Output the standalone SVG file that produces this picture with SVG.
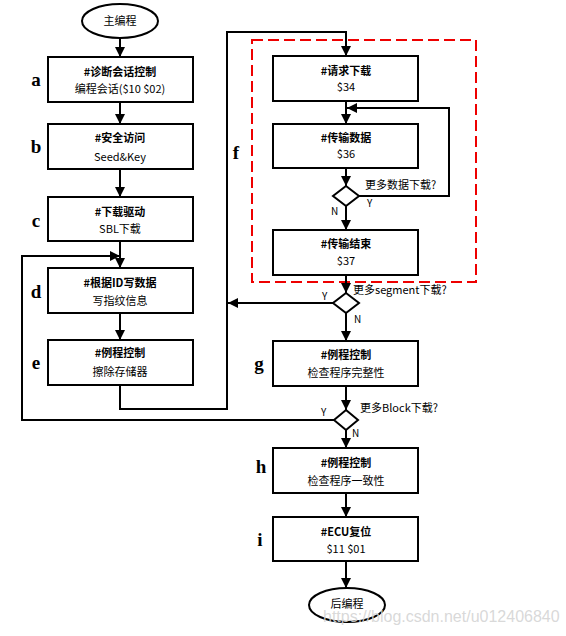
<svg xmlns="http://www.w3.org/2000/svg" width="566" height="636" viewBox="0 0 566 636">
<style>
.box{fill:#fff;stroke:#000;stroke-width:2}
.t{font-family:"Noto Sans CJK SC","Liberation Sans",sans-serif;font-size:11px;text-anchor:middle;fill:#000}
.tb{font-weight:bold}
.lbl{font-family:"Liberation Serif",serif;font-size:19px;font-weight:bold;text-anchor:middle;fill:#000}
.yn{font-family:"Noto Sans CJK SC","Liberation Sans",sans-serif;font-size:10px;fill:#000}
.c{fill:none;stroke:#000;stroke-width:2}
.q{font-family:"Noto Sans CJK SC","Liberation Sans",sans-serif;font-size:11px;fill:#000}
</style>
<defs>
<marker id="ar" viewBox="0 0 10 10" refX="10" refY="5" markerWidth="5" markerHeight="5" orient="auto" markerUnits="strokeWidth">
<path d="M0,0 L10,5 L0,10 z" fill="#000"/>
</marker>
</defs>
<rect width="566" height="636" fill="#fff"/>

<rect x="252" y="40" width="224" height="242" fill="none" stroke="#e00" stroke-width="2" stroke-dasharray="11,5"/>

<g id="connectors">
<path class="c" d="M120,38 V57" marker-end="url(#ar)"/>
<path class="c" d="M120,102 V124" marker-end="url(#ar)"/>
<path class="c" d="M120,169 V197" marker-end="url(#ar)"/>
<path class="c" d="M120,241 V268" marker-end="url(#ar)"/>
<path class="c" d="M120,313 V340" marker-end="url(#ar)"/>
<path class="c" d="M120,385 V409 H227 V32 H346 V56" marker-end="url(#ar)"/>
<path class="c" d="M346,101 V124" marker-end="url(#ar)"/>
<path class="c" d="M346,168 V186" marker-end="url(#ar)"/>
<path class="c" d="M359,196 H449 V108 H347" marker-end="url(#ar)"/>
<path class="c" d="M346,206 V230" marker-end="url(#ar)"/>
<path class="c" d="M346,275 V293" marker-end="url(#ar)"/>
<path class="c" d="M333,303 H228" marker-end="url(#ar)"/>
<path class="c" d="M346,313 V341" marker-end="url(#ar)"/>
<path class="c" d="M346,386 V410" marker-end="url(#ar)"/>
<path class="c" d="M334,420 H22 V256 H120" marker-end="url(#ar)"/>
<path class="c" d="M346,430 V448" marker-end="url(#ar)"/>
<path class="c" d="M346,493 V517" marker-end="url(#ar)"/>
<path class="c" d="M346,561 V588" marker-end="url(#ar)"/>
</g>

<g id="start">
<ellipse cx="120" cy="21" rx="38" ry="17" class="box"/>
<text class="t" x="120" y="25">主编程</text>
</g>

<g id="a">
<rect class="box" x="48" y="57" width="145" height="45"/>
<text class="t tb" x="120" y="76">#诊断会话控制</text>
<text class="t" x="120" y="93">编程会话($10 $02)</text>
<text class="lbl" x="36" y="86">a</text>
</g>
<g id="b">
<rect class="box" x="48" y="124" width="145" height="45"/>
<text class="t tb" x="120" y="142">#安全访问</text>
<text class="t" x="120" y="161">Seed&amp;Key</text>
<text class="lbl" x="36" y="153">b</text>
</g>
<g id="c">
<rect class="box" x="48" y="197" width="145" height="44"/>
<text class="t tb" x="120" y="216">#下载驱动</text>
<text class="t" x="120" y="233">SBL下载</text>
<text class="lbl" x="36" y="227">c</text>
</g>
<g id="d">
<rect class="box" x="48" y="268" width="145" height="45"/>
<text class="t tb" x="120" y="287">#根据ID写数据</text>
<text class="t" x="120" y="305">写指纹信息</text>
<text class="lbl" x="36" y="298">d</text>
</g>
<g id="e">
<rect class="box" x="48" y="340" width="145" height="45"/>
<text class="t tb" x="120" y="357">#例程控制</text>
<text class="t" x="120" y="376">擦除存储器</text>
<text class="lbl" x="36" y="369">e</text>
</g>
<text class="lbl" x="236" y="159">f</text>

<g id="req">
<rect class="box" x="273" y="56" width="145" height="45"/>
<text class="t tb" x="346" y="75">#请求下载</text>
<text class="t" x="346" y="91">$34</text>
</g>
<g id="trans">
<rect class="box" x="273" y="124" width="145" height="44"/>
<text class="t tb" x="346" y="142">#传输数据</text>
<text class="t" x="346" y="158">$36</text>
</g>
<g id="dec1">
<path class="box" d="M346,186 L359,196 L346,206 L333,196 z"/>
<text class="q" x="365" y="189">更多数据下载?</text>
<text class="yn" x="367" y="207">Y</text>
<text class="yn" x="331" y="215">N</text>
</g>
<g id="end37">
<rect class="box" x="273" y="230" width="145" height="45"/>
<text class="t tb" x="346" y="248">#传输结束</text>
<text class="t" x="346" y="265">$37</text>
</g>
<g id="dec2">
<path class="box" d="M346,293 L359,303 L346,313 L333,303 z"/>
<text class="q" x="353" y="294">更多segment下载?</text>
<text class="yn" x="322" y="300">Y</text>
<text class="yn" x="354" y="323">N</text>
</g>
<g id="g">
<rect class="box" x="273" y="341" width="145" height="45"/>
<text class="t tb" x="346" y="359">#例程控制</text>
<text class="t" x="346" y="377">检查程序完整性</text>
<text class="lbl" x="259" y="370">g</text>
</g>
<g id="dec3">
<path class="box" d="M346,410 L358,420 L346,430 L334,420 z"/>
<text class="q" x="360" y="412">更多Block下载?</text>
<text class="yn" x="321" y="416">Y</text>
<text class="yn" x="352" y="437">N</text>
</g>
<g id="h">
<rect class="box" x="273" y="448" width="145" height="45"/>
<text class="t tb" x="346" y="467">#例程控制</text>
<text class="t" x="346" y="485">检查程序一致性</text>
<text class="lbl" x="261" y="473">h</text>
</g>
<g id="i">
<rect class="box" x="273" y="517" width="145" height="44"/>
<text class="t tb" x="346" y="536">#ECU复位</text>
<text class="t" x="346" y="553">$11 $01</text>
<text class="lbl" x="260" y="546">i</text>
</g>
<g id="endnode">
<ellipse cx="347" cy="605" rx="38" ry="17" class="box"/>
<text class="t" x="347" y="608">后编程</text>
</g>
<text x="323" y="622" font-family="Liberation Sans,Arial,sans-serif" font-size="16" fill="#d4d4d4" fill-opacity="0.9">https://blog.csdn.net/u012406840</text>
</svg>
